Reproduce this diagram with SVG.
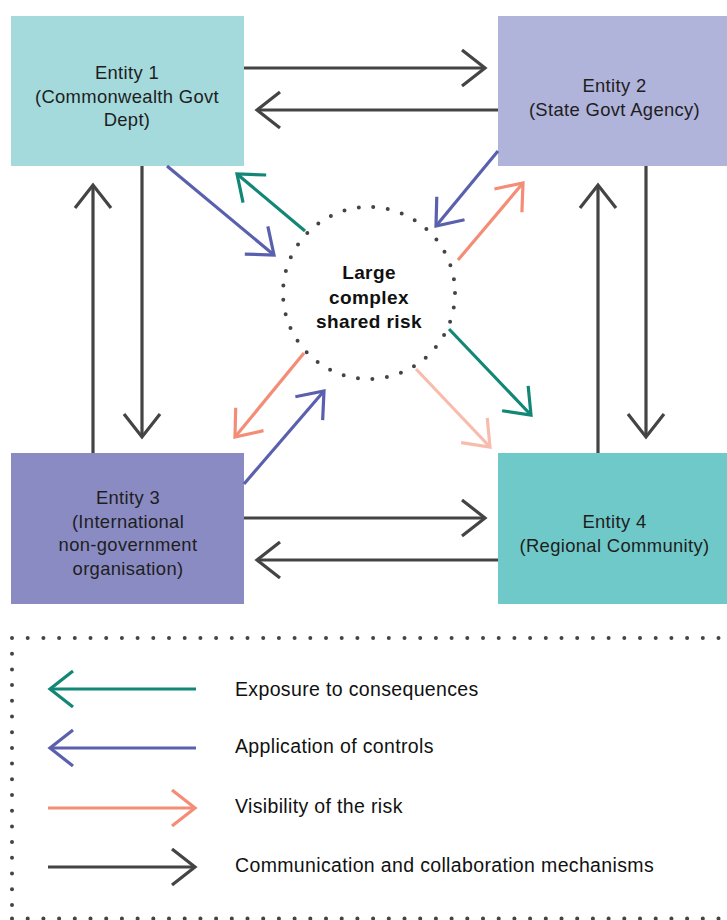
<svg xmlns="http://www.w3.org/2000/svg" width="727" height="920" viewBox="0 0 727 920">
<style>
.ent{font-family:"Liberation Sans",Arial,sans-serif;font-size:18.4px;fill:#1e1e1e;text-anchor:middle;letter-spacing:0.35px}
.risk{font-family:"Liberation Sans",Arial,sans-serif;font-size:19px;font-weight:bold;fill:#111;text-anchor:middle;letter-spacing:0.4px}
.leg{font-family:"Liberation Sans",Arial,sans-serif;font-size:19.5px;fill:#111;letter-spacing:0.35px}
.c{fill:none;stroke-width:3.2;stroke-linecap:butt}
.dk{stroke:#444444}
.gr{stroke:#128775}
.bl{stroke:#5a60ad}
.or{stroke:#f48d76}
.lt{stroke:#f8bcad}
.dots{fill:none;stroke:#444;stroke-width:4;stroke-linecap:round}
</style>
<defs>
<marker id="mdk" markerUnits="userSpaceOnUse" markerWidth="60" markerHeight="60" viewBox="-30 -30 60 60" refX="0" refY="0" orient="auto" overflow="visible"><path d="M-23,-18 L0,0 L-23,18" fill="none" stroke="#444444" stroke-width="3.2"/></marker>
<marker id="mgr" markerUnits="userSpaceOnUse" markerWidth="60" markerHeight="60" viewBox="-30 -30 60 60" refX="0" refY="0" orient="auto" overflow="visible"><path d="M-23,-18 L0,0 L-23,18" fill="none" stroke="#128775" stroke-width="3.2"/></marker>
<marker id="mbl" markerUnits="userSpaceOnUse" markerWidth="60" markerHeight="60" viewBox="-30 -30 60 60" refX="0" refY="0" orient="auto" overflow="visible"><path d="M-23,-18 L0,0 L-23,18" fill="none" stroke="#5a60ad" stroke-width="3.2"/></marker>
<marker id="mor" markerUnits="userSpaceOnUse" markerWidth="60" markerHeight="60" viewBox="-30 -30 60 60" refX="0" refY="0" orient="auto" overflow="visible"><path d="M-23,-18 L0,0 L-23,18" fill="none" stroke="#f48d76" stroke-width="3.2"/></marker>
<marker id="mlt" markerUnits="userSpaceOnUse" markerWidth="60" markerHeight="60" viewBox="-30 -30 60 60" refX="0" refY="0" orient="auto" overflow="visible"><path d="M-23,-18 L0,0 L-23,18" fill="none" stroke="#f8bcad" stroke-width="3.2"/></marker>
</defs>
<rect width="727" height="920" fill="#ffffff"/>

<g id="entity1">
<rect x="11" y="16" width="233" height="150" fill="#a4dadc"/>
<text class="ent" x="127" y="79">Entity 1</text>
<text class="ent" x="127" y="102.5">(Commonwealth Govt</text>
<text class="ent" x="127" y="126">Dept)</text>
</g>
<g id="entity2">
<rect x="498" y="16" width="233" height="150" fill="#b0b3da"/>
<text class="ent" x="614.5" y="92">Entity 2</text>
<text class="ent" x="614.5" y="115.5">(State Govt Agency)</text>
</g>
<g id="entity3">
<rect x="11" y="453" width="233" height="151" fill="#8a8bc3"/>
<text class="ent" x="128" y="504">Entity 3</text>
<text class="ent" x="128" y="527.5">(International</text>
<text class="ent" x="128" y="551">non-government</text>
<text class="ent" x="128" y="574.5">organisation)</text>
</g>
<g id="entity4">
<rect x="498" y="453" width="233" height="151" fill="#70c9c9"/>
<text class="ent" x="614.5" y="528">Entity 4</text>
<text class="ent" x="614.5" y="551.5">(Regional Community)</text>
</g>
<g id="risk">
<circle cx="369" cy="293" r="86" class="dots" stroke-dasharray="0 14.604"/>
<text class="risk" x="369" y="279">Large</text>
<text class="risk" x="369" y="303.5">complex</text>
<text class="risk" x="369" y="328">shared risk</text>
</g>

<g id="connectors">
<line class="c dk" x1="244" y1="68" x2="485" y2="68" marker-end="url(#mdk)"/>
<line class="c dk" x1="498" y1="110" x2="257" y2="110" marker-end="url(#mdk)"/>
<line class="c dk" x1="93" y1="453" x2="93" y2="185" marker-end="url(#mdk)"/>
<line class="c dk" x1="142" y1="166" x2="142" y2="437" marker-end="url(#mdk)"/>
<line class="c dk" x1="598" y1="453" x2="598" y2="185" marker-end="url(#mdk)"/>
<line class="c dk" x1="646" y1="166" x2="646" y2="437" marker-end="url(#mdk)"/>
<line class="c dk" x1="244" y1="518" x2="485" y2="518" marker-end="url(#mdk)"/>
<line class="c dk" x1="498" y1="560" x2="257" y2="560" marker-end="url(#mdk)"/>

<line class="c bl" x1="167" y1="166" x2="274" y2="255" marker-end="url(#mbl)"/>
<line class="c bl" x1="498" y1="151" x2="436" y2="226" marker-end="url(#mbl)"/>
<line class="c bl" x1="244" y1="484" x2="324" y2="391" marker-end="url(#mbl)"/>
<line class="c gr" x1="305" y1="231" x2="237" y2="174" marker-end="url(#mgr)"/>
<line class="c gr" x1="449" y1="329" x2="531" y2="415" marker-end="url(#mgr)"/>
<line class="c or" x1="458" y1="260" x2="523" y2="183" marker-end="url(#mor)"/>
<line class="c or" x1="304" y1="353" x2="235" y2="437" marker-end="url(#mor)"/>
<line class="c lt" x1="416" y1="369" x2="490" y2="447" marker-end="url(#mlt)"/>
</g>

<g id="legend">
<line class="dots" x1="12" y1="638" x2="727" y2="638" stroke-dasharray="0 15.7"/>
<line class="dots" x1="12" y1="653.7" x2="12" y2="918" stroke-dasharray="0 15.7"/>
<line class="dots" x1="12" y1="918.5" x2="727" y2="918.5" stroke-dasharray="0 15.7"/>
<line class="c gr" x1="196" y1="689" x2="50" y2="689" marker-end="url(#mgr)"/>
<line class="c bl" x1="196" y1="748" x2="50" y2="748" marker-end="url(#mbl)"/>
<line class="c or" x1="48" y1="808" x2="195" y2="808" marker-end="url(#mor)"/>
<line class="c dk" x1="48" y1="867" x2="195" y2="867" marker-end="url(#mdk)"/>
<text class="leg" x="235" y="696">Exposure to consequences</text>
<text class="leg" x="235" y="753">Application of controls</text>
<text class="leg" x="235" y="813">Visibility of the risk</text>
<text class="leg" x="235" y="872">Communication and collaboration mechanisms</text>
</g>
</svg>
